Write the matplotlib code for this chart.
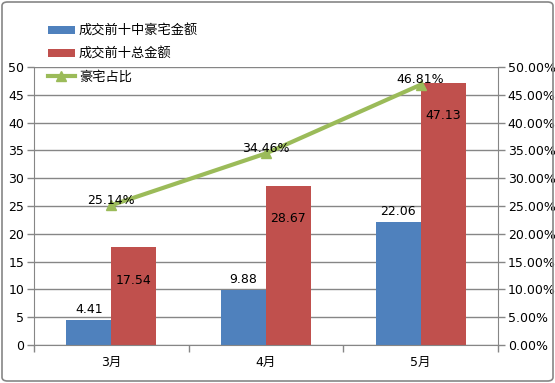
import matplotlib
matplotlib.use("Agg")
import matplotlib.pyplot as plt
from matplotlib.patches import FancyBboxPatch
from matplotlib.ticker import FuncFormatter, FixedLocator
import numpy as np

plt.rcParams['font.family'] = ['DejaVu Sans', 'Noto Sans CJK SC']

categories = ['3月', '4月', '5月']
luxury = [4.41, 9.88, 22.06]
total = [17.54, 28.67, 47.13]
share = [25.14, 34.46, 46.81]
series_names = ['成交前十中豪宅金额', '成交前十总金额', '豪宅占比']

blue = '#4F81BD'
red = '#C0504D'
green = '#9BBB59'
gray = '#868686'

W, H = 555, 383
fig = plt.figure(figsize=(W/100, H/100), dpi=100)
ax = fig.add_axes([34/W, 1-345/H, (498-34)/W, (345-67)/H])
ax2 = ax.twinx()

x = np.arange(len(categories))
bw = 0.29
b1 = ax.bar(x - bw/2, luxury, bw, color=blue, zorder=2, label=series_names[0])
b2 = ax.bar(x + bw/2, total, bw, color=red, zorder=2, label=series_names[1])
ax.set_xlim(-0.5, 2.5)
ax.set_ylim(0, 50)
ax.set_yticks(np.arange(0, 51, 5))
ax.yaxis.grid(True, color=gray, lw=1, zorder=0)
ax.set_axisbelow(True)
ax.set_xticks(x)
ax.set_xticklabels(categories, fontsize=9)
ax.xaxis.set_minor_locator(FixedLocator([-0.5, 0.5, 1.5, 2.5]))
ax.tick_params(axis='x', which='major', length=0, pad=8)
ax.tick_params(axis='x', which='minor', length=5, color=gray, width=1)
ax.tick_params(axis='y', length=5, color=gray, width=1, labelsize=9, pad=2)
for s in ['top', 'right']:
    ax.spines[s].set_visible(False)
for s in ['left', 'bottom']:
    ax.spines[s].set_color(gray)

for r, v in zip(b1, luxury):
    ax.annotate(f'{v:.2f}', (r.get_x()+r.get_width()/2, v), xytext=(0, 11),
                textcoords='offset pixels', ha='center', va='center', fontsize=9)
for r, v in zip(b2, total):
    ax.annotate(f'{v:.2f}', (r.get_x()+r.get_width()/2, v), xytext=(0, -33),
                textcoords='offset pixels', ha='center', va='center', fontsize=9)

ax2.plot(x, share, color=green, lw=3, marker='^', markersize=7, zorder=3, label=series_names[2])
ax2.set_ylim(0, 50)
ax2.set_yticks(np.arange(0, 51, 5))
ax2.yaxis.set_major_formatter(FuncFormatter(lambda v, p: f'{v:.2f}%'))
ax2.tick_params(axis='y', length=5, color=gray, width=1, labelsize=9, pad=2)
for s in ['top', 'left', 'bottom']:
    ax2.spines[s].set_visible(False)
ax2.spines['right'].set_color(gray)
for xi, v in zip(x, share):
    ax2.annotate(f'{v:.2f}%', (xi, v), xytext=(0, 5), textcoords='offset pixels',
                 ha='center', va='center', fontsize=9)

h1, l1 = ax.get_legend_handles_labels()
h2, l2 = ax2.get_legend_handles_labels()
leg = fig.legend(h1 + h2, l1 + l2, loc='upper left', bbox_to_anchor=(36/W, 1-13/H),
                 frameon=False, prop={'family': ['Noto Sans CJK SC'], 'size': 9.5},
                 handlelength=2.05, handleheight=0.6, labelspacing=0.75, handletextpad=0.3)

border = FancyBboxPatch((2/W, 2/H), 1-4/W, 1-4/H, boxstyle='round,pad=0,rounding_size=0.01',
                        transform=fig.transFigure, fill=False, edgecolor=gray, lw=1.2)
fig.patches.append(border)

fig.savefig('out.png', dpi=100)
